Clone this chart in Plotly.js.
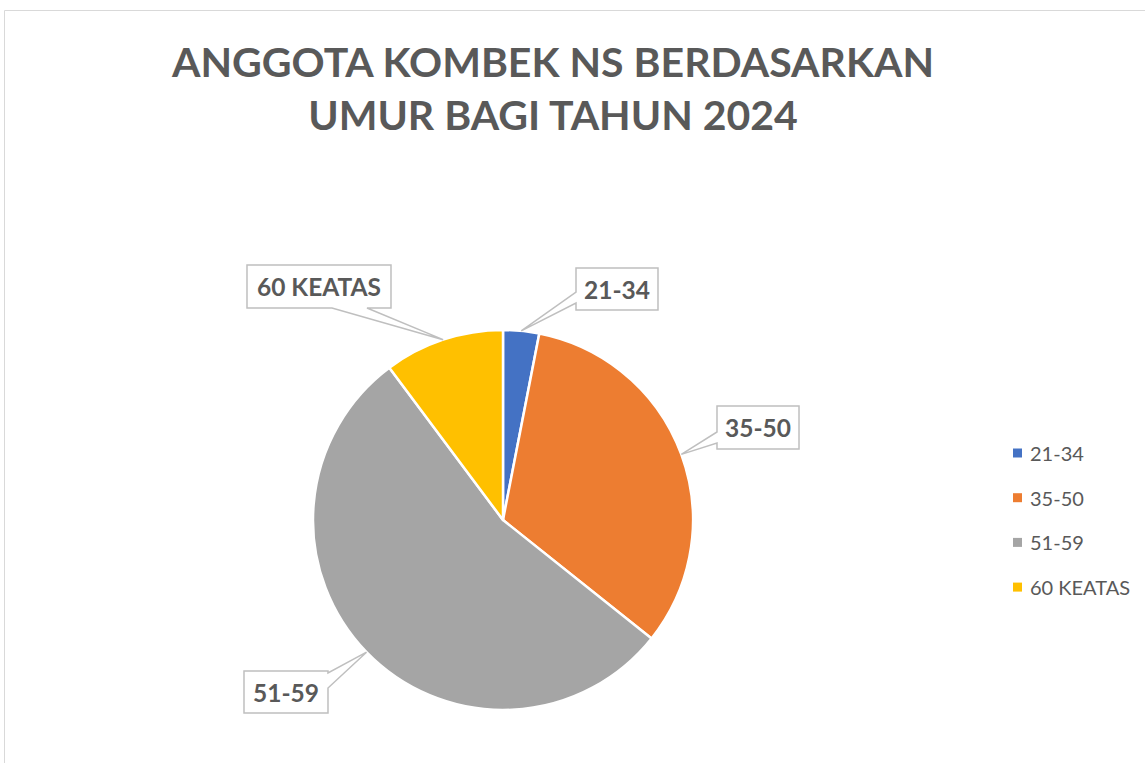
<!DOCTYPE html>
<html>
<head>
<meta charset="utf-8">
<script src="https://cdn.plot.ly/plotly-3.0.1.min.js"></script>
<style>html,body{margin:0;padding:0;background:#fff;}#chart{width:1145px;height:763px;}</style>
</head>
<body>
<div id="chart"></div>
<script>
// ---- data ----
const categories = ["21-34", "35-50", "51-59", "60 KEATAS"];
const values = [3, 32, 53, 10];
const colors = ["#4472C4", "#ED7D31", "#A5A5A5", "#FFC000"];
const titleLines = ["ANGGOTA KOMBEK NS BERDASARKAN", "UMUR BAGI TAHUN 2024"];

// ---- layout geometry (pixels) ----
const W = 1145, H = 763;
const CX = 503, CY = 520, R = 190;
const px = x => x / W;
const py = y => 1 - y / H;

// callout boxes: [x0, y0, x1, y1, side, base0, base1]
const boxes = [
  [576, 268, 658, 310, "left", 292, 303],
  [717, 406, 799, 449, "left", 432, 443],
  [244, 671, 328, 713, "right", 673, 688],
  [247, 265, 391, 308, "bottom", 332, 367]
];

const total = values.reduce((a, b) => a + b, 0);
let cum = 0;
const anchors = values.map(v => {
  const mid = (cum + v / 2) / total * 2 * Math.PI;
  cum += v;
  return [CX + R * Math.sin(mid), CY - R * Math.cos(mid)];
});

function P(x, y) { return px(x).toFixed(5) + "," + py(y).toFixed(5); }

const shapes = [];
const annotations = [];

// chart area border (top and left visible)
shapes.push({type: "path", xref: "paper", yref: "paper",
  path: "M" + P(4.5, H) + " L" + P(4.5, 10.5) + " L" + P(W, 10.5),
  line: {color: "#d9d9d9", width: 1}});

categories.forEach((c, i) => {
  const [x0, y0, x1, y1, side, b0, b1] = boxes[i];
  const [ax, ay] = anchors[i];
  let d;
  if (side === "left") {
    d = "M" + P(x0, y0) + " L" + P(x1, y0) + " L" + P(x1, y1) + " L" + P(x0, y1) +
        " L" + P(x0, b1) + " L" + P(ax, ay) + " L" + P(x0, b0) + " Z";
  } else if (side === "right") {
    d = "M" + P(x0, y0) + " L" + P(x1, y0) + " L" + P(x1, b0) + " L" + P(ax, ay) +
        " L" + P(x1, b1) + " L" + P(x1, y1) + " L" + P(x0, y1) + " Z";
  } else {
    d = "M" + P(x0, y0) + " L" + P(x1, y0) + " L" + P(x1, y1) + " L" + P(b1, y1) +
        " L" + P(ax, ay) + " L" + P(b0, y1) + " L" + P(x0, y1) + " Z";
  }
  shapes.push({type: "path", xref: "paper", yref: "paper", path: d,
    fillcolor: "#ffffff", line: {color: "#bfbfbf", width: 1.5}});
  annotations.push({xref: "paper", yref: "paper", x: px((x0 + x1) / 2), y: py((y0 + y1) / 2),
    xanchor: "center", yanchor: "middle", showarrow: false, text: "<b>" + c + "</b>",
    font: {family: "Lato, 'Open Sans', sans-serif", size: 24.5, color: "#595959"}});
});

// legend (manual, spacing like reference)
const legX = 1013, legY0 = 453, legStep = 44.7, sq = 9;
categories.forEach((c, i) => {
  const yc = legY0 + i * legStep;
  shapes.push({type: "rect", xref: "paper", yref: "paper",
    x0: px(legX), x1: px(legX + sq), y0: py(yc - sq / 2), y1: py(yc + sq / 2),
    fillcolor: colors[i], line: {width: 0}});
  annotations.push({xref: "paper", yref: "paper", x: px(legX + 15), y: py(yc),
    xanchor: "left", yanchor: "middle", showarrow: false, text: c,
    font: {family: "Lato, 'Open Sans', sans-serif", size: 20, color: "#595959"}});
});

const trace = {
  type: "pie",
  labels: categories,
  values: values,
  sort: false,
  direction: "clockwise",
  rotation: 0,
  textinfo: "none",
  hoverinfo: "label+value+percent",
  marker: {colors: colors, line: {color: "#ffffff", width: 2.5}},
  domain: {x: [px(CX - R), px(CX + R)], y: [py(CY + R), py(CY - R)]},
  showlegend: false
};

const layout = {
  width: W, height: H,
  margin: {l: 0, r: 0, t: 0, b: 0},
  paper_bgcolor: "#ffffff",
  showlegend: false,
  title: {text: "<b>" + titleLines.join("<br>") + "</b>", x: 0.483, xanchor: "center",
    y: py(77), yanchor: "top",
    font: {family: "Lato, 'Open Sans', sans-serif", size: 41, color: "#595959"}},
  shapes: shapes,
  annotations: annotations
};

Plotly.newPlot("chart", [trace], layout, {displayModeBar: false, staticPlot: true});
</script>
</body>
</html>
